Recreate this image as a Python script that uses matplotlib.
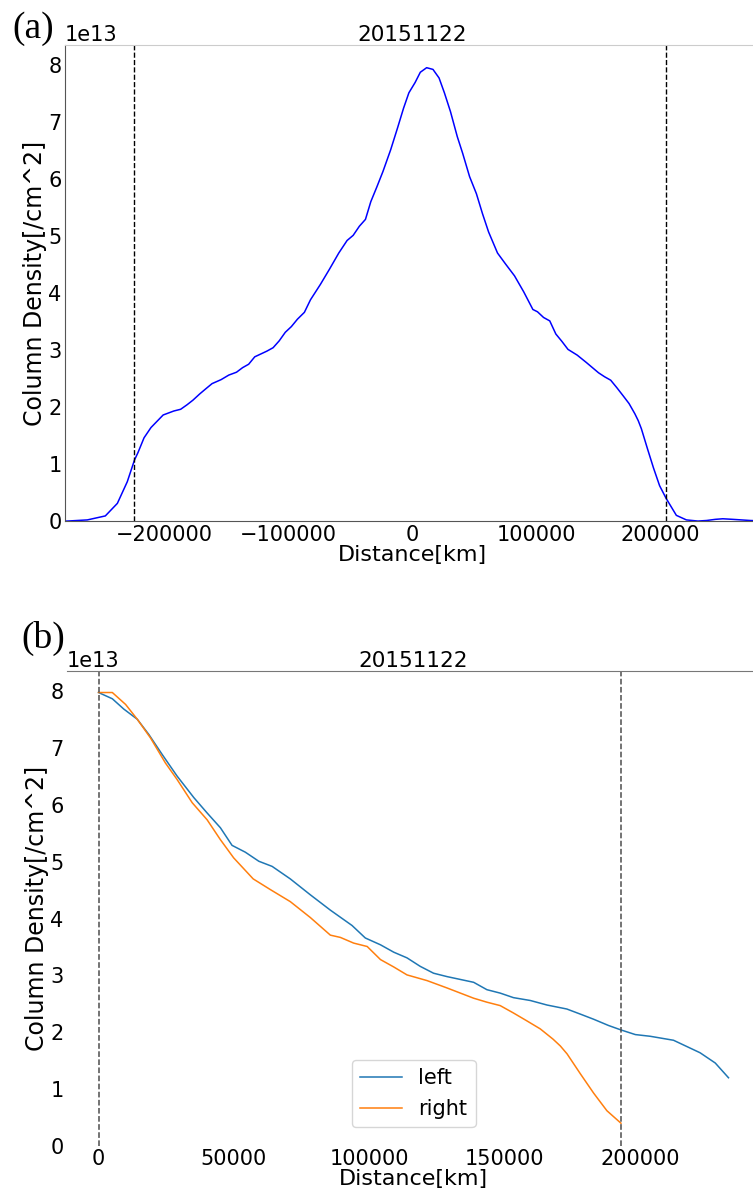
import matplotlib
matplotlib.use('Agg')
import matplotlib.pyplot as plt
import numpy as np

title = '20151122'

# panel (a): profile across the whole structure
pos_a = [-285000, -278000, -262000, -247500, -237800, -229800, -224000, -221200,
         -216300, -210700, -205800, -200900, -192300, -186800, -181600, -176900,
         -171400, -166500, -161500, -154200, -148000, -141800, -136900, -132000,
         -127100, -122200, -117300, -112300, -107400, -102500, -97600, -92700,
         -87100, -82200, -74200, -66800, -59400, -52700, -47800, -42800, -37900,
         -33600, -28700, -23800, -17600, -12100, -7200, -2900, 2100, 6300, 11400,
         16500, 21400, 25700, 30600, 36100, 40400, 46000, 51500, 56400, 61300,
         68500, 74900, 82200, 89600, 97000, 100700, 105600, 110600, 115500,
         120400, 125300, 132700, 140100, 149900, 154800, 159700, 164600, 169600,
         174500, 179200, 181900, 184400, 189300, 194200, 199100, 204300, 212600,
         220700, 230000, 237000, 244000, 250000, 258000, 265000, 272000, 285000]
dens_a = [0.0, 0.0, 0.02, 0.09, 0.31, 0.69, 1.07, 1.20,
          1.46, 1.64, 1.75, 1.86, 1.93, 1.96, 2.04, 2.12,
          2.23, 2.32, 2.41, 2.48, 2.56, 2.61, 2.69, 2.75,
          2.88, 2.93, 2.98, 3.04, 3.16, 3.31, 3.41, 3.54,
          3.66, 3.88, 4.15, 4.42, 4.70, 4.92, 5.01, 5.17, 5.29,
          5.60, 5.86, 6.13, 6.51, 6.89, 7.24, 7.51, 7.69, 7.87, 7.95,
          7.92, 7.77, 7.51, 7.18, 6.74, 6.45, 6.04, 5.74, 5.39, 5.07,
          4.70, 4.51, 4.30, 4.02, 3.71, 3.67, 3.57, 3.51, 3.28,
          3.15, 3.01, 2.91, 2.78, 2.60, 2.53, 2.47, 2.34, 2.20,
          2.06, 1.88, 1.76, 1.62, 1.27, 0.93, 0.62, 0.40, 0.10,
          0.02, 0.0, 0.01, 0.03, 0.04, 0.03, 0.02, 0.01, 0.0]
edges_a = [-224000, 204600]

# panel (b): profiles measured from the peak
dist_left = [0, 5100, 9300, 14300, 18600, 23500, 29000, 35200, 40100, 45000,
             49300, 54200, 59200, 64100, 70800, 78200, 85600, 93600, 98500,
             104100, 109000, 113900, 118800, 123700, 128700, 133600, 138500,
             143400, 148300, 153200, 159400, 165600, 172900, 177900, 182800,
             188300, 193000, 198200, 203700, 212300, 217200, 222100, 227700,
             232600]
dens_left = [7.98, 7.87, 7.69, 7.51, 7.24, 6.89, 6.51, 6.13, 5.86, 5.60,
             5.29, 5.17, 5.01, 4.92, 4.70, 4.42, 4.15, 3.88, 3.66,
             3.54, 3.41, 3.31, 3.16, 3.04, 2.98, 2.93, 2.88,
             2.75, 2.69, 2.61, 2.56, 2.48, 2.41, 2.32, 2.23,
             2.12, 2.04, 1.96, 1.93, 1.86, 1.75, 1.64, 1.46,
             1.20]
dist_right = [0, 5100, 10000, 14300, 19200, 24700, 29000, 34600, 40100, 45000,
              49900, 57100, 63500, 70800, 78200, 85600, 89300, 94200, 99200,
              104100, 109000, 113900, 121300, 128700, 138500, 143400, 148300,
              153200, 158200, 163100, 167800, 170500, 173000, 177900, 182800,
              187700, 192900]
dens_right = [7.98, 7.98, 7.77, 7.51, 7.18, 6.74, 6.45, 6.04, 5.74, 5.39,
              5.07, 4.70, 4.51, 4.30, 4.02, 3.71, 3.67, 3.57, 3.51,
              3.28, 3.15, 3.01, 2.91, 2.78, 2.60, 2.53, 2.47,
              2.34, 2.20, 2.06, 1.88, 1.76, 1.62, 1.27, 0.93,
              0.62, 0.40]
edges_b = [0, 192900]

scale = 1e13

fig = plt.figure(figsize=(7.53, 11.88), dpi=100)
ax1 = fig.add_axes([0.0863, 0.5614, 0.9230, 0.4007])
ax2 = fig.add_axes([0.0890, 0.0354, 0.9203, 0.3998])

# (a)
ax1.plot(pos_a, np.array(dens_a) * scale, color='blue', lw=1.1)
for e in edges_a:
    ax1.axvline(e, color='k', ls='--', lw=1)
ax1.set_xlim(-280000, 280000)
ax1.set_ylim(bottom=0)
ax1.set_xticks([-200000, -100000, 0, 100000, 200000])
ax1.spines['right'].set_visible(False)
ax1.spines['top'].set_color('#cccccc')
ax1.spines['left'].set_color('#555555')
ax1.spines['bottom'].set_color('#555555')

# (b)
ax2.plot(dist_left, np.array(dens_left) * scale, color='C0', lw=1.1, label='left')
ax2.plot(dist_right, np.array(dens_right) * scale, color='C1', lw=1.1, label='right')
for e in edges_b:
    ax2.axvline(e, color='0.3', ls='--', lw=1.1)
ax2.set_ylim(bottom=0)
ax2.set_xticks([0, 50000, 100000, 150000, 200000])
for s in ['left', 'bottom', 'right']:
    ax2.spines[s].set_visible(False)
ax2.spines['top'].set_color('#777777')
ax2.legend(loc='lower center', fontsize=15, handlelength=2, borderaxespad=0.9)

for ax in (ax1, ax2):
    ax.set_title(title, fontsize=15.5, pad=2)
    ax.set_xlabel('Distance[km]', fontsize=16, labelpad=0)
    ax.set_ylabel('Column Density[/cm^2]', fontsize=17, labelpad=1)
    ax.tick_params(length=0, labelsize=15, pad=2.5)
    ax.yaxis.get_offset_text().set_fontsize(15)

fig.text(0.016, 0.968, '(a)', family='Liberation Serif', fontsize=27)
fig.text(0.028, 0.455, '(b)', family='Liberation Serif', fontsize=27)

fig.savefig('out.png', dpi=100)
